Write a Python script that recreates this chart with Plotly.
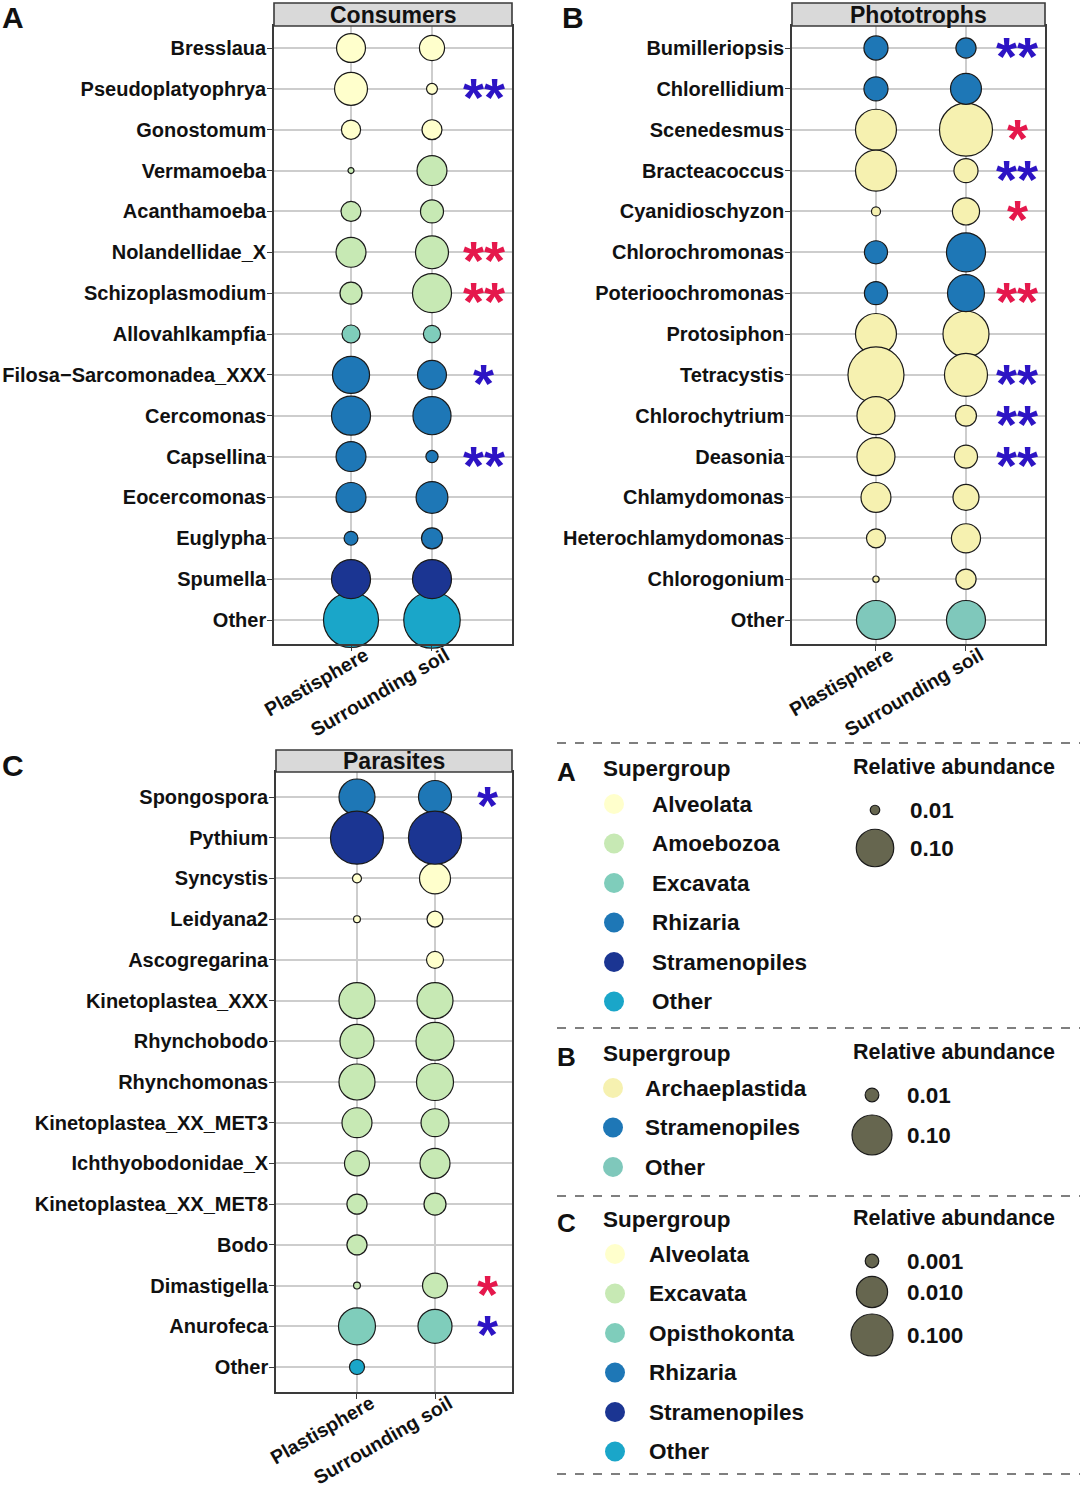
import math
import plotly.graph_objects as go

W, H = 1080, 1489
FONT = "Liberation Sans"
TXT = "#111111"

samples = ["Plastisphere", "Surrounding soil"]

# ---------------- Panel A: Consumers ----------------
a_taxa = ["Bresslaua", "Pseudoplatyophrya", "Gonostomum", "Vermamoeba", "Acanthamoeba",
          "Nolandellidae_X", "Schizoplasmodium", "Allovahlkampfia", "Filosa\u2212Sarcomonadea_XXX",
          "Cercomonas", "Capsellina", "Eocercomonas", "Euglypha", "Spumella", "Other"]
a_group = ["Alveolata", "Alveolata", "Alveolata", "Amoebozoa", "Amoebozoa", "Amoebozoa",
           "Amoebozoa", "Excavata", "Rhizaria", "Rhizaria", "Rhizaria", "Rhizaria", "Rhizaria",
           "Stramenopiles", "Other"]
a_plast = [0.061, 0.078, 0.029, 0.0063, 0.031, 0.065, 0.037, 0.026, 0.098, 0.108, 0.065,
           0.065, 0.017, 0.108, 0.211]
a_soil = [0.047, 0.012, 0.031, 0.065, 0.040, 0.078, 0.108, 0.024, 0.061, 0.103, 0.014,
          0.073, 0.034, 0.108, 0.222]
a_sig = ["", "**", "", "", "", "**", "**", "", "*", "", "**", "", "", "", ""]
a_sigdir = ["", "plast", "", "", "", "soil", "soil", "", "plast", "", "plast", "", "", "", ""]
a_groups_legend = ["Alveolata", "Amoebozoa", "Excavata", "Rhizaria", "Stramenopiles", "Other"]
a_size_breaks = [0.01, 0.10]
a_size_labels = ["0.01", "0.10"]

# ---------------- Panel B: Phototrophs ----------------
b_taxa = ["Bumilleriopsis", "Chlorellidium", "Scenedesmus", "Bracteacoccus", "Cyanidioschyzon",
          "Chlorochromonas", "Poterioochromonas", "Protosiphon", "Tetracystis", "Chlorochytrium",
          "Deasonia", "Chlamydomonas", "Heterochlamydomonas", "Chlorogonium", "Other"]
b_group = ["Stramenopiles", "Stramenopiles", "Archaeplastida", "Archaeplastida", "Archaeplastida",
           "Stramenopiles", "Stramenopiles", "Archaeplastida", "Archaeplastida", "Archaeplastida",
           "Archaeplastida", "Archaeplastida", "Archaeplastida", "Archaeplastida", "Other"]
b_plast = [0.035, 0.035, 0.105, 0.105, 0.0032, 0.032, 0.032, 0.105, 0.198, 0.090, 0.090,
           0.055, 0.021, 0.0005, 0.095]
b_soil = [0.024, 0.059, 0.177, 0.035, 0.045, 0.095, 0.085, 0.133, 0.116, 0.026, 0.032,
          0.041, 0.052, 0.024, 0.095]
b_sig = ["**", "", "*", "**", "*", "", "**", "", "**", "**", "**", "", "", "", ""]
b_sigdir = ["plast", "", "soil", "plast", "soil", "", "soil", "", "plast", "plast", "plast",
            "", "", "", ""]
b_groups_legend = ["Archaeplastida", "Stramenopiles", "Other"]
b_size_breaks = [0.01, 0.10]
b_size_labels = ["0.01", "0.10"]

# ---------------- Panel C: Parasites ----------------
c_taxa = ["Spongospora", "Pythium", "Syncystis", "Leidyana2", "Ascogregarina", "Kinetoplastea_XXX",
          "Rhynchobodo", "Rhynchomonas", "Kinetoplastea_XX_MET3", "Ichthyobodonidae_X",
          "Kinetoplastea_XX_MET8", "Bodo", "Dimastigella", "Anurofeca", "Other"]
c_group = ["Rhizaria", "Stramenopiles", "Alveolata", "Alveolata", "Alveolata", "Excavata",
           "Excavata", "Excavata", "Excavata", "Excavata", "Excavata", "Excavata", "Excavata",
           "Opisthokonta", "Other"]
c_plast = [0.0256, 2.10, 0.00074, 0.00067, None, 0.0256, 0.017, 0.0256, 0.008, 0.0036,
           0.0019, 0.0019, 0.00067, 0.0316, 0.00113]
c_soil = [0.014, 2.15, 0.0096, 0.00123, 0.00136, 0.0256, 0.039, 0.0316, 0.0057, 0.008,
          0.0024, None, 0.0036, 0.017, None]
c_sig = ["*", "", "", "", "", "", "", "", "", "", "", "", "*", "*", ""]
c_sigdir = ["plast", "", "", "", "", "", "", "", "", "", "", "", "soil", "plast", ""]
c_groups_legend = ["Alveolata", "Excavata", "Opisthokonta", "Rhizaria", "Stramenopiles", "Other"]
c_size_breaks = [0.001, 0.010, 0.100]
c_size_labels = ["0.001", "0.010", "0.100"]

# ---------------- styling ----------------
COL6 = {"c1": "#FFFFCC", "c2": "#C7E9B4", "c3": "#7FCDBB", "c4": "#1AA6C9",
        "c5": "#1E77B6", "c6": "#1B3592"}
a_colors = {"Alveolata": COL6["c1"], "Amoebozoa": COL6["c2"], "Excavata": COL6["c3"],
            "Other": COL6["c4"], "Rhizaria": COL6["c5"], "Stramenopiles": COL6["c6"]}
c_colors = {"Alveolata": COL6["c1"], "Excavata": COL6["c2"], "Opisthokonta": COL6["c3"],
            "Other": COL6["c4"], "Rhizaria": COL6["c5"], "Stramenopiles": COL6["c6"]}
b_colors = {"Archaeplastida": "#F6F1B0", "Other": "#7FC8BB", "Stramenopiles": "#1E77B6"}
SIG_COL = {"plast": "#2D14C4", "soil": "#E5184C"}


def size_a(v):
    return math.sqrt(max(-56 + 14622 * v, 9))


def size_b(v):
    return math.sqrt(max(31 + 15689 * v, 9))


def size_c(v):
    return math.sqrt(max(1764 + 790 * (math.log10(v) + 1), 9))


def px(x):
    return x / W


def py(y):
    return 1 - y / H


panels = [
    dict(taxa=a_taxa, group=a_group, plast=a_plast, soil=a_soil, sig=a_sig, sigdir=a_sigdir,
         colors=a_colors, size=size_a, title="Consumers", letter="A",
         box=(274, 26, 512, 644), strip=(3, 26), xr=[0.049, 2.988], sigx=2.64,
         rows=(48, 620), letter_xy=(13, 17)),
    dict(taxa=b_taxa, group=b_group, plast=b_plast, soil=b_soil, sig=b_sig, sigdir=b_sigdir,
         colors=b_colors, size=size_b, title="Phototrophs", letter="B",
         box=(792, 26, 1045, 644), strip=(3, 26), xr=[0.067, 2.878], sigx=2.57,
         rows=(48, 620), letter_xy=(573, 17)),
    dict(taxa=c_taxa, group=c_group, plast=c_plast, soil=c_soil, sig=c_sig, sigdir=c_sigdir,
         colors=c_colors, size=size_c, title="Parasites", letter="C",
         box=(276, 772, 512, 1392), strip=(750, 772), xr=[-0.038, 2.987], sigx=2.67,
         rows=(797, 1367), letter_xy=(13, 765)),
]

fig = go.Figure()
shapes = []
annotations = []
layout_axes = {}

for i, p in enumerate(panels, start=1):
    xa = "x" if i == 1 else f"x{i}"
    ya = "y" if i == 1 else f"y{i}"
    n = len(p["taxa"])
    x0, y0, x1, y1 = p["box"]
    r_top, r_bot = p["rows"]
    step = (r_bot - r_top) / (n - 1)
    pad_t = (r_top - y0) / step
    pad_b = (y1 - r_bot) / step
    # traces, one per group in alphabetical order (draw order)
    for g in sorted(set(p["group"])):
        xs, ys, ss = [], [], []
        for k, t in enumerate(p["taxa"]):
            if p["group"][k] != g:
                continue
            for j, vals in enumerate([p["plast"], p["soil"]]):
                v = vals[k]
                if v is None:
                    continue
                xs.append(j + 1)
                ys.append(t)
                ss.append(p["size"](v))
        fig.add_trace(go.Scatter(
            x=xs, y=ys, mode="markers", xaxis=xa, yaxis=ya, showlegend=False,
            cliponaxis=False, hoverinfo="skip",
            marker=dict(size=ss, color=p["colors"][g], line=dict(color="#1a1a1a", width=1.2),
                        opacity=1)))
    axis_common = dict(showline=True, mirror=True, linecolor="#3a3a3a", linewidth=1.6,
                       showgrid=True, gridcolor="#CDCDCD", gridwidth=1.6, zeroline=False,
                       ticks="outside", ticklen=5, tickwidth=1.4, tickcolor="#3a3a3a",
                       automargin=False)
    layout_axes["xaxis" if i == 1 else f"xaxis{i}"] = dict(
        axis_common, domain=[px(x0), px(x1)], range=p["xr"], tickmode="array",
        tickvals=[1, 2], ticktext=samples, tickangle=-30,
        ticklabelstandoff=-14, ticklabelshift=14,
        tickfont=dict(family=FONT, size=19.5, color=TXT, weight="bold"),
        anchor=ya, fixedrange=True)
    layout_axes["yaxis" if i == 1 else f"yaxis{i}"] = dict(
        axis_common, domain=[py(y1), py(y0)], type="category",
        categoryorder="array", categoryarray=p["taxa"],
        range=[n - 1 + pad_b, -pad_t], ticklabelstandoff=-3,
        tickfont=dict(family=FONT, size=20, color=TXT, weight="bold"),
        anchor=xa, fixedrange=True)
    # strip
    s0, s1 = p["strip"]
    shapes.append(dict(type="rect", xref="paper", yref="paper", x0=px(x0), x1=px(x1),
                       y0=py(s1), y1=py(s0), fillcolor="#D9D9D9",
                       line=dict(color="#3a3a3a", width=1.6), layer="above"))
    annotations.append(dict(xref="paper", yref="paper", x=px((x0 + x1) / 2), y=py((s0 + s1) / 2),
                            text=p["title"], showarrow=False, xanchor="center", yanchor="middle",
                            font=dict(family=FONT, size=23, color=TXT, weight="bold")))
    annotations.append(dict(xref="paper", yref="paper", x=px(p["letter_xy"][0]),
                            y=py(p["letter_xy"][1]), text=p["letter"], showarrow=False,
                            xanchor="center", yanchor="middle",
                            font=dict(family=FONT, size=30, color=TXT, weight="bold")))
    # significance
    for k, s in enumerate(p["sig"]):
        if not s:
            continue
        annotations.append(dict(xref=xa, yref=ya, x=p["sigx"], y=k, text=s, showarrow=False,
                                xanchor="center", yanchor="middle", yshift=-8,
                                font=dict(family=FONT, size=54, color=SIG_COL[p["sigdir"][k]],
                                          weight="bold")))

# ---------------- legend block (pixel overlay axis) ----------------
layout_axes["xaxis4"] = dict(domain=[0, 1], range=[0, W], visible=False, anchor="y4",
                             fixedrange=True, automargin=False)
layout_axes["yaxis4"] = dict(domain=[0, 1], range=[H, 0], visible=False, anchor="x4",
                             fixedrange=True, automargin=False)

legend_blocks = [
    dict(letter="A", groups=a_groups_legend, colors=a_colors, size=size_a, breaks=a_size_breaks,
         labels=a_size_labels, top=768, key_x=614, lab_x=650, item_y0=804, item_dy=39.5,
         sz_x=875, sz_y=[810, 848]),
    dict(letter="B", groups=b_groups_legend, colors=b_colors, size=size_b, breaks=b_size_breaks,
         labels=b_size_labels, top=1053, key_x=613, lab_x=643, item_y0=1088, item_dy=39.5,
         sz_x=872, sz_y=[1095, 1135]),
    dict(letter="C", groups=c_groups_legend, colors=c_colors, size=size_c, breaks=c_size_breaks,
         labels=c_size_labels, top=1219, key_x=615, lab_x=647, item_y0=1254, item_dy=39.5,
         sz_x=872, sz_y=[1261, 1292, 1335]),
]
for yl in [743, 1028, 1196, 1474]:
    shapes.append(dict(type="line", xref="x4", yref="y4", x0=557, x1=1080, y0=yl, y1=yl,
                       line=dict(color="#555555", width=1.3, dash="dash")))

LF = dict(family=FONT, size=22.5, color=TXT, weight="bold")
for lb in legend_blocks:
    annotations.append(dict(xref="x4", yref="y4", x=566, y=lb["top"] + 4, text=lb["letter"],
                            showarrow=False, xanchor="center", yanchor="middle",
                            font=dict(family=FONT, size=26, color=TXT, weight="bold")))
    annotations.append(dict(xref="x4", yref="y4", x=601, y=lb["top"], text="Supergroup",
                            showarrow=False, xanchor="left", yanchor="middle", font=LF))
    annotations.append(dict(xref="x4", yref="y4", x=851, y=lb["top"] - 1,
                            text="Relative abundance", showarrow=False, xanchor="left",
                            yanchor="middle", font=dict(LF, size=21.5)))
    ys = [lb["item_y0"] + k * lb["item_dy"] for k in range(len(lb["groups"]))]
    fig.add_trace(go.Scatter(
        x=[lb["key_x"]] * len(ys), y=ys, xaxis="x4", yaxis="y4", mode="markers",
        showlegend=False, hoverinfo="skip",
        marker=dict(size=20, color=[lb["colors"][g] for g in lb["groups"]], line=dict(width=0))))
    for g, yy in zip(lb["groups"], ys):
        annotations.append(dict(xref="x4", yref="y4", x=lb["lab_x"], y=yy, text=g,
                                showarrow=False, xanchor="left", yanchor="middle", font=LF))
    fig.add_trace(go.Scatter(
        x=[lb["sz_x"]] * len(lb["breaks"]), y=lb["sz_y"], xaxis="x4", yaxis="y4",
        mode="markers", showlegend=False, hoverinfo="skip",
        marker=dict(size=[lb["size"](v) for v in lb["breaks"]], color="#66664F", opacity=1,
                    line=dict(color="#1a1a1a", width=1.2))))
    for lab, yy in zip(lb["labels"], lb["sz_y"]):
        annotations.append(dict(xref="x4", yref="y4", x=lb["sz_x"] + 33, y=yy, text=lab,
                                showarrow=False, xanchor="left", yanchor="middle", font=LF))

fig.update_layout(
    width=W, height=H, margin=dict(l=0, r=0, t=0, b=0, autoexpand=False),
    paper_bgcolor="white", plot_bgcolor="rgba(0,0,0,0)",
    showlegend=False, shapes=shapes, annotations=annotations,
    font=dict(family=FONT, color=TXT),
    **layout_axes,
)

fig.write_html("out.html", config={"displayModeBar": False},
               post_script="document.body.style.margin='0';document.body.style.padding='0';")
